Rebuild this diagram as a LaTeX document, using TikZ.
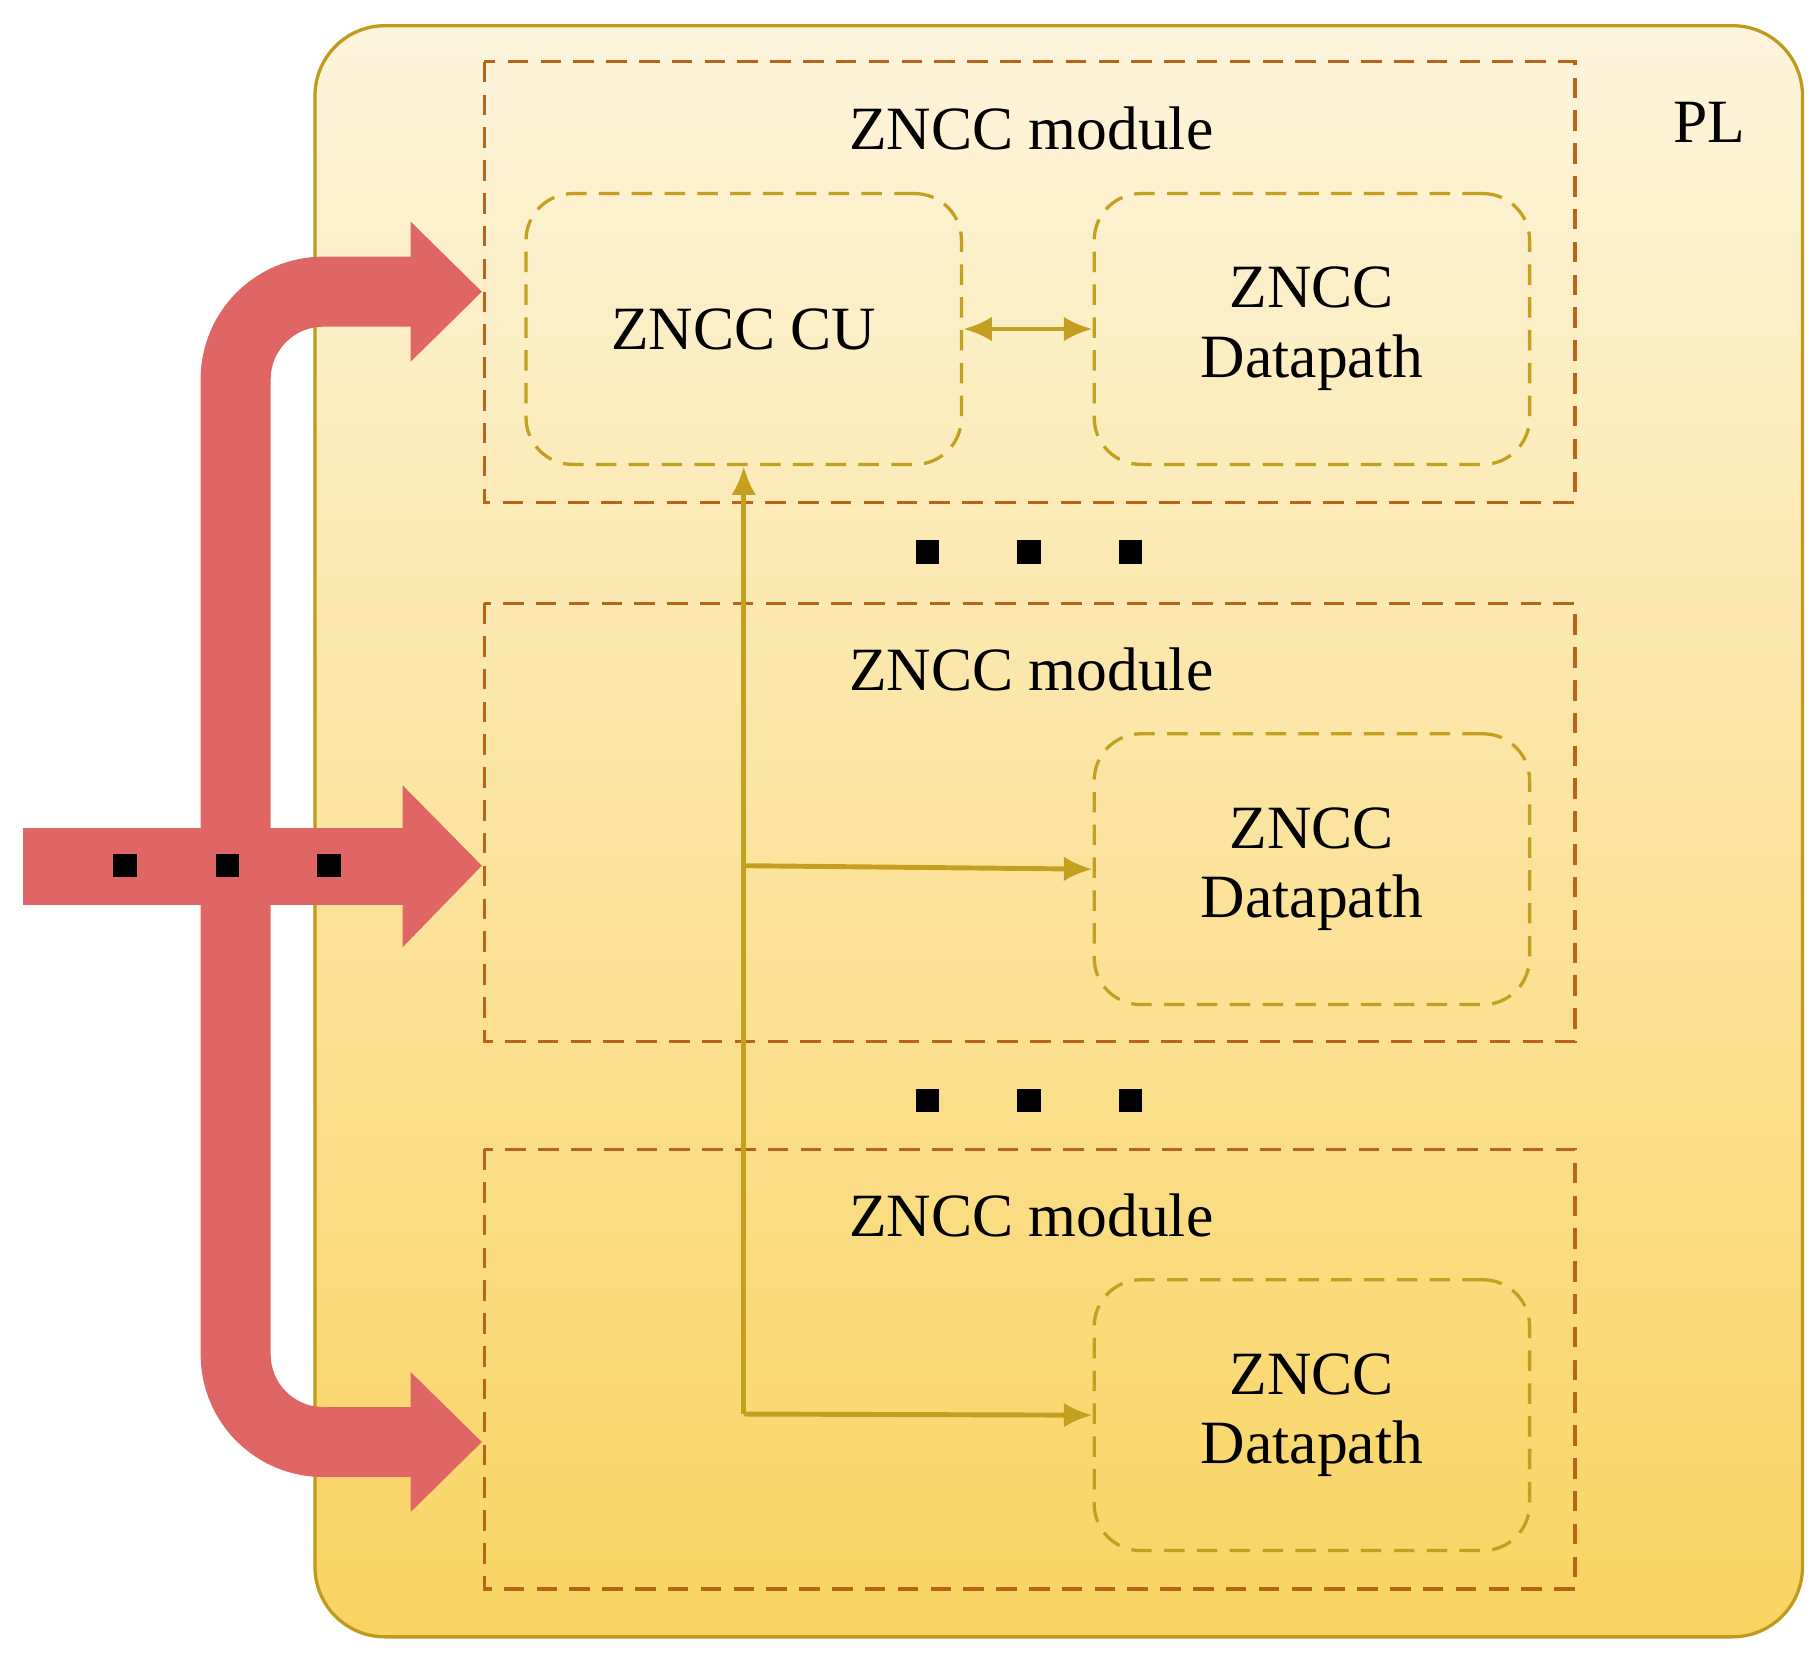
\documentclass[tikz,border=0pt]{standalone}
\usepackage{fontspec}
\setmainfont{Liberation Serif}
\usetikzlibrary{positioning,arrows.meta}
\definecolor{plborder}{HTML}{C09A1A}
\definecolor{pltop}{HTML}{FDF4DC}
\definecolor{plbottom}{HTML}{F9D462}
\definecolor{modborder}{HTML}{B8651A}
\definecolor{subborder}{HTML}{C4A020}
\definecolor{bus}{HTML}{E06666}
\begin{document}
\begin{tikzpicture}[
      x=0.01cm, y=-0.01cm,
      font=\fontsize{15}{17}\selectfont,
      PL/.style={
        draw=plborder, thick,
        rounded corners=0.6cm,
        top color=pltop, bottom color=plbottom,
      },
      module/.style={
        draw=modborder, dash pattern=on 5pt off 3pt, thick,
      },
      sub/.style={
        draw=subborder, dash pattern=on 5pt off 3pt, thick,
        rounded corners=0.4cm,
        minimum width=3.73cm, minimum height=2.32cm,
        align=center,
      },
      link/.style={
        draw=subborder, very thick, -{Latex[length=7pt,width=6pt]},
      },
      dot/.style={
        fill=black, minimum size=0.2cm, inner sep=0pt,
      },
    ]
    \useasboundingbox (0,0) rectangle (1560,1420);
    \draw[PL] (270,22) rectangle (1545,1403);
    \node (pl-label) at (1465,105) {PL};
    % modules
    \foreach \t/\b/\i in {53/431/1, 517/893/2, 985/1362/3}{
      \draw[module] (415,\t) rectangle (1350,\b);
      \node (title-\i) at (884,\t+57) {ZNCC module};
    }
    \node[sub] (cu) at (637.5,282) {ZNCC CU};
    \node[sub] (dp-1) at (1124.5,282) {ZNCC\\Datapath};
    \node[sub] (dp-2) at (1124.5,745) {ZNCC\\Datapath};
    \node[sub] (dp-3) at (1124.5,1213) {ZNCC\\Datapath};
    \coordinate (split) at (637.5,742);
    \coordinate (tail) at (637.5,1212);
    \draw[link, {Latex[length=7pt,width=6pt]}-{Latex[length=7pt,width=6pt]}] (cu.east) -- (dp-1.west);
    \draw[link] (tail) -- (cu.south);
    \draw[link] (split) -- (dp-2.west);
    \draw[link] (tail) -- (dp-3.west);
    % dots
    \foreach \x in {795,882,969}{
      \node[dot] at (\x,473) {};
      \node[dot] at (\x,943) {};
    }
    % bus arrows
    \draw[bus, line width=0.6cm, rounded corners=0.75cm] (353,250) -| (202,1236) -- (353,1236);
    \fill[bus] (352,190) -- (413,250) -- (352,310) -- cycle;
    \fill[bus] (352,1176) -- (413,1236) -- (352,1296) -- cycle;
    \fill[bus] (20,710) rectangle (346,776);
    \fill[bus] (345,673) -- (413,742) -- (345,812) -- cycle;
    \foreach \x in {107,195,282}{
      \node[dot] at (\x,742) {};
    }
  \end{tikzpicture}
\end{document}
